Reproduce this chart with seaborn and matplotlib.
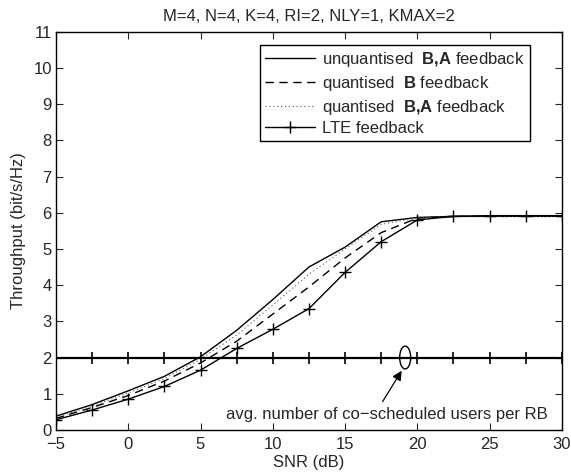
import numpy as np
import pandas as pd
import matplotlib
matplotlib.use("Agg")
import matplotlib.pyplot as plt
import seaborn as sns
from matplotlib.patches import Ellipse

snr = [-5, -2.5, 0, 2.5, 5, 7.5, 10, 12.5, 15, 17.5, 20, 22.5, 25, 27.5, 30]
unquant_ba = [0.38, 0.70, 1.08, 1.48, 2.02, 2.75, 3.60, 4.50, 5.05, 5.75, 5.87, 5.90, 5.90, 5.90, 5.90]
quant_b = [0.32, 0.62, 0.95, 1.35, 1.85, 2.45, 3.20, 3.95, 4.75, 5.45, 5.85, 5.90, 5.90, 5.90, 5.90]
quant_ba = [0.35, 0.66, 1.02, 1.42, 1.95, 2.62, 3.45, 4.30, 5.00, 5.68, 5.86, 5.90, 5.90, 5.90, 5.90]
lte = [0.28, 0.55, 0.85, 1.20, 1.65, 2.25, 2.78, 3.35, 4.35, 5.20, 5.80, 5.90, 5.92, 5.92, 5.92]
users_per_rb = [2] * len(snr)

labels = ["unquantised  $\\mathbf{B{,}A}$ feedback",
          "quantised  $\\mathbf{B}$ feedback",
          "quantised  $\\mathbf{B{,}A}$ feedback",
          "LTE feedback"]

fs = 12

sns.set_style("ticks")
plt.rcParams['font.family'] = ['Liberation Sans', 'DejaVu Sans']
plt.rcParams['mathtext.fontset'] = 'custom'
plt.rcParams['mathtext.bf'] = 'Liberation Sans:bold'
plt.rcParams['mathtext.rm'] = 'Liberation Sans'
plt.rcParams['xtick.direction'] = 'in'
plt.rcParams['ytick.direction'] = 'in'

fig = plt.figure(figsize=(5.71, 4.74), dpi=100)
ax = fig.add_axes([0.098, 0.093, 0.886, 0.840])

sns.lineplot(x=snr, y=unquant_ba, ax=ax, color='black', lw=1.0, label=labels[0])
sns.lineplot(x=snr, y=quant_b, ax=ax, color='black', lw=1.0, linestyle=(0, (6, 4)), label=labels[1])
sns.lineplot(x=snr, y=quant_ba, ax=ax, color='#555555', lw=0.8, linestyle=(0, (1, 2.5)), label=labels[2])
sns.lineplot(x=snr, y=lte, ax=ax, color='black', lw=1.0, marker='+', markersize=9,
             markeredgewidth=1.0, markeredgecolor='black', label=labels[3])
sns.lineplot(x=snr, y=users_per_rb, ax=ax, color='black', lw=1.6, marker='+', markersize=9,
             markeredgewidth=1.2, markeredgecolor='black', legend=False)

ax.add_patch(Ellipse((19.16, 2), 0.76, 0.63, fill=False, color='black', lw=1.0))
ax.annotate("", xy=(19.02, 1.7), xytext=(17.5, 0.72),
            arrowprops=dict(arrowstyle='-|>', color='black', lw=0.9, mutation_scale=14))
ax.text(29.0, 0.42, "avg. number of co\u2212scheduled users per RB", ha='right', va='center', fontsize=fs)

ax.set_xlim(-5, 30)
ax.set_ylim(0, 11)
ax.set_xticks(np.arange(-5, 31, 5))
ax.set_yticks(np.arange(0, 12, 1))
ax.set_xticklabels(["\u22125", "0", "5", "10", "15", "20", "25", "30"])
ax.tick_params(top=True, right=True, length=5, width=0.8, labelsize=fs, pad=3)
ax.tick_params(axis='x', pad=5)
for s in ax.spines.values():
    s.set_linewidth(1.0)
    s.set_color('black')

ax.set_xlabel("SNR (dB)", fontsize=fs, labelpad=2)
ax.set_ylabel("Throughput (bit/s/Hz)", fontsize=fs, labelpad=5)
ax.set_title("M=4, N=4, K=4, RI=2, NLY=1, KMAX=2", fontsize=fs, pad=8)

leg = ax.legend(loc='upper right', bbox_to_anchor=(0.953, 0.987), fontsize=fs, frameon=True,
                fancybox=False, edgecolor='black', framealpha=1, handlelength=3.0,
                borderpad=0.3, labelspacing=0.28, handletextpad=0.4)
leg.get_frame().set_linewidth(1.0)

fig.savefig("out.png", dpi=100)
